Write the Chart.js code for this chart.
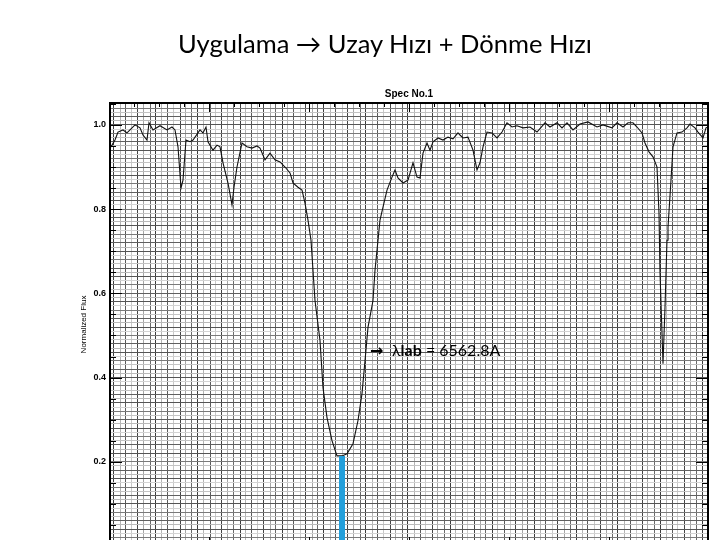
<!DOCTYPE html>
<html><head><meta charset="utf-8">
<script src="https://cdn.jsdelivr.net/npm/chart.js@4"></script>
<style>
html,body{margin:0;padding:0;width:720px;height:540px;overflow:hidden;background:#fff;}
#wrap{position:absolute;left:0;top:0;width:720px;height:560px;}
#slideTitle{position:absolute;left:0;top:27px;width:770px;text-align:center;font-family:Lato,'Open Sans',sans-serif;font-size:25.5px;line-height:32px;color:#000;z-index:2;white-space:nowrap;}
</style></head><body>
<div id="slideTitle">Uygulama → Uzay Hızı + Dönme Hızı</div>
<div id="wrap"><canvas id="c" width="720" height="560"></canvas></div>
<script>
// Spectrum (wavelength in Å, normalized flux)
const lambda = [6539.6,6539.8,6540.1,6540.4,6540.9,6541.3,6541.6,6542.1,6542.6,6542.9,6543.3,6543.5,6543.9,6544.6,6545.3,6545.8,6546.1,6546.4,6546.7,6546.9,6547.2,6547.6,6547.9,6548.6,6548.9,6549.2,6549.4,6549.9,6550.3,6550.6,6550.9,6551.4,6551.8,6552.0,6552.3,6552.8,6553.3,6553.8,6554.3,6554.6,6555.1,6555.6,6556.1,6556.6,6557.1,6557.6,6557.9,6558.4,6558.8,6559.1,6559.4,6559.7,6560.1,6560.6,6560.9,6561.3,6561.8,6562.3,6562.8,6563.3,6563.9,6564.4,6564.8,6565.1,6565.4,6565.9,6566.1,6566.4,6566.6,6566.9,6567.3,6567.8,6568.1,6568.4,6568.9,6569.4,6569.9,6570.3,6570.6,6570.9,6571.3,6571.6,6571.9,6572.4,6572.9,6573.4,6573.9,6574.4,6574.6,6574.9,6575.4,6575.9,6576.3,6576.6,6576.9,6577.3,6577.8,6578.3,6578.8,6579.3,6579.8,6580.3,6580.9,6581.6,6582.3,6583.1,6583.6,6584.3,6584.8,6585.3,6585.9,6586.6,6587.4,6588.3,6588.9,6589.8,6590.3,6590.9,6591.4,6591.9,6592.3,6592.8,6593.1,6593.5,6593.9,6594.3,6594.5,6594.6,6594.9,6595.1,6595.3,6595.4,6595.7,6595.9,6596.3,6596.8,6597.3,6597.6,6598.1,6598.4,6598.9,6599.2,6599.4];
const flux = [0.945,0.952,0.964,0.983,0.988,0.981,0.988,1.000,0.993,0.976,0.964,1.005,0.988,0.998,0.988,0.995,0.988,0.948,0.850,0.869,0.964,0.960,0.964,0.988,0.981,0.995,0.960,0.940,0.952,0.948,0.910,0.862,0.810,0.852,0.900,0.957,0.948,0.945,0.950,0.945,0.917,0.933,0.917,0.912,0.900,0.886,0.862,0.852,0.845,0.814,0.774,0.726,0.583,0.488,0.376,0.305,0.250,0.214,0.214,0.219,0.243,0.298,0.362,0.440,0.519,0.583,0.655,0.726,0.774,0.805,0.845,0.876,0.893,0.874,0.862,0.869,0.910,0.876,0.874,0.933,0.957,0.940,0.960,0.969,0.964,0.971,0.967,0.981,0.976,0.969,0.971,0.940,0.893,0.910,0.948,0.983,0.981,0.969,0.983,1.005,0.995,0.998,0.993,0.995,0.983,1.005,0.995,1.005,0.993,1.005,0.988,1.002,1.007,0.995,1.000,0.993,1.005,0.995,1.005,1.005,0.995,0.981,0.957,0.936,0.924,0.900,0.790,0.650,0.433,0.567,0.726,0.757,0.869,0.948,0.981,0.983,0.993,1.002,0.993,0.983,0.969,0.993,0.995];
// Lab wavelength marker
const labLambda = 6562.8;
const labFlux = 0.214;
// Axis ranges & ticks
const xMin = 6539.6, xMax = 6599.4;
const yMin = 0, yMax = 1.052;
const yTickValues = [0.0, 0.2, 0.4, 0.6, 0.8, 1.0];

const gridColX = ['#3c3c3c','#b4b4b4','#5a5a5a','#c8c8c8','#444444','#a6a6a6','#6a6a6a'];
const gridColY = ['#606060','#c4c4c4','#7a7a7a','#d4d4d4','#555555','#bababa'];

const frameTicks = {
  id: 'frameTicks',
  afterDatasetsDraw(chart) {
    const {ctx, chartArea: a, scales: {x, y}} = chart;
    ctx.save();
    ctx.strokeStyle = '#000';
    ctx.lineWidth = 1;
    for (let k = 0; k * 0.05 <= yMax + 1e-9; k++) {
      const py = Math.round(y.getPixelForValue(k * 0.05)) + 0.5;
      const len = (k % 4 === 0) ? 12 : 6;
      ctx.beginPath();
      ctx.moveTo(a.left, py); ctx.lineTo(a.left + len, py);
      ctx.moveTo(a.right, py); ctx.lineTo(a.right - len, py);
      ctx.stroke();
    }
    for (let k = 0; 6542 + k * 2.5 <= xMax; k++) {
      const px = Math.round(x.getPixelForValue(6542 + k * 2.5)) + 0.5;
      const len = ((k - 3) % 4 === 0) ? 9 : 4;
      ctx.beginPath();
      ctx.moveTo(px, a.top); ctx.lineTo(px, a.top + len);
      ctx.moveTo(px, a.bottom); ctx.lineTo(px, a.bottom - len);
      ctx.stroke();
    }
    ctx.lineWidth = 2;
    ctx.strokeRect(a.left, a.top, a.right - a.left, a.bottom - a.top);
    ctx.restore();
  },
  afterDraw(chart) {
    const {ctx, scales: {x, y}} = chart;
    ctx.save();
    ctx.fillStyle = '#000';
    ctx.textBaseline = 'alphabetic';
    let px = x.getPixelForValue(6565.6);
    const py = y.getPixelForValue(0.451);
    ctx.font = 'bold 16px "DejaVu Sans"';
    ctx.fillText('→', px, py);
    px += 22;
    ctx.font = '16px Lato';
    ctx.fillText('λ', px, py);
    px += ctx.measureText('λ').width;
    ctx.font = 'bold 16px Lato';
    ctx.fillText('lab', px, py);
    px += ctx.measureText('lab').width;
    ctx.font = '16px Lato';
    ctx.fillText(' = 6562.8A', px, py);
    ctx.restore();
  }
};

new Chart(document.getElementById('c'), {
  type: 'line',
  data: {
    datasets: [
      {
        data: [{x: labLambda, y: labFlux}, {x: labLambda, y: yMin}],
        borderColor: '#239fdb', borderWidth: 6, borderCapStyle: 'butt',
        pointRadius: 0, xAxisID: 'x', yAxisID: 'y'
      },
      {
        data: lambda.map((l, i) => ({x: l, y: flux[i]})),
        borderColor: '#111', borderWidth: 1.1, pointRadius: 0, tension: 0,
        xAxisID: 'x', yAxisID: 'y'
      }
    ]
  },
  options: {
    responsive: false, animation: false, devicePixelRatio: 1,
    layout: {padding: {left: 0, right: 12, top: 0, bottom: 0}},
    plugins: {
      legend: {display: false}, tooltip: {enabled: false},
      title: {
        display: true, text: 'Spec No.1', color: '#000', fullSize: false,
        font: {family: '"Liberation Sans", Arial', size: 10, weight: 'bold', lineHeight: 1.2},
        padding: {top: 88, bottom: 3}
      }
    },
    scales: {
      x: {
        type: 'linear', position: 'bottom', min: xMin, max: xMax,
        grid: {display: false}, border: {display: false},
        ticks: {display: false},
        afterFit: s => { s.height = 14; }
      },
      xg: {
        type: 'linear', position: 'top', min: xMin, max: xMax,
        ticks: {display: false, stepSize: 0.6, includeBounds: false},
        grid: {display: true, drawTicks: false, lineWidth: 1,
               color: c => gridColX[c.index % gridColX.length]},
        border: {display: false},
        afterFit: s => { s.height = 0; }
      },
      y: {
        type: 'linear', position: 'left', min: yMin, max: yMax,
        afterBuildTicks: s => { s.ticks = yTickValues.map(v => ({value: v})); },
        ticks: {
          color: '#000', padding: 4, autoSkip: false,
          font: {family: '"Liberation Sans", Arial', size: 9, weight: 'bold'},
          callback: v => Number(v).toFixed(1)
        },
        grid: {display: false, drawTicks: false}, border: {display: false},
        title: {
          display: true, text: 'Normalized Flux', color: '#000',
          font: {family: '"Liberation Sans", Arial', size: 8},
          padding: {top: 79, bottom: 0}
        },
        afterFit: s => { s.width = 110; }
      },
      yg: {
        type: 'linear', position: 'right', min: yMin, max: yMax,
        ticks: {display: false, stepSize: 0.01, includeBounds: false},
        grid: {display: true, drawTicks: false, lineWidth: 1,
               color: c => gridColY[c.index % gridColY.length]},
        border: {display: false},
        afterFit: s => { s.width = 0; }
      }
    }
  },
  plugins: [frameTicks]
});
</script></body></html>
